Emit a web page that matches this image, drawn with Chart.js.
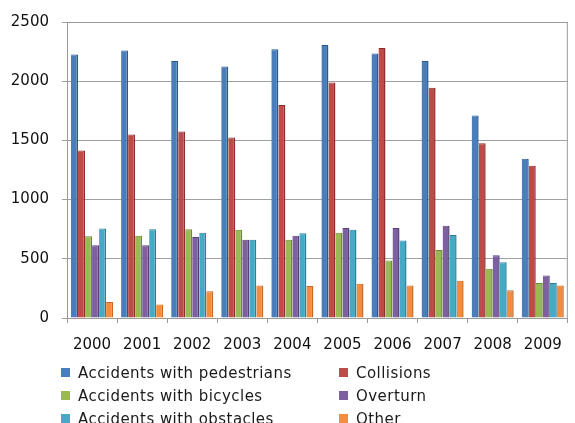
<!DOCTYPE html>
<html lang="en">
<head>
  <meta charset="UTF-8" />
  <title>Accidents by type</title>
  <script src="https://cdn.jsdelivr.net/npm/chart.js"></script>
  <style>
    html, body { margin: 0; padding: 0; background: #fff; }
    #wrap { position: relative; width: 575px; height: 423px; overflow: hidden; }
    #legend { position: absolute; left: 61px; top: 364px; display: grid;
      grid-template-columns: 278px 200px; row-gap: 5px; line-height: 18px;
      font: 15px "DejaVu Sans", sans-serif; letter-spacing: 0.45px; color: #1a1a1a; }
    #legend span.sw { display: inline-block; width: 9px; height: 9px; margin-right: 8px; vertical-align: 1px; }
  </style>
  <script>
    const years = ["2000", "2001", "2002", "2003", "2004", "2005", "2006", "2007", "2008", "2009"];
    const yTicks = [0, 500, 1000, 1500, 2000, 2500];

    const pedestrians = [2225, 2260, 2170, 2125, 2270, 2305, 2235, 2170, 1710, 1345];
    const collisions  = [1415, 1550, 1575, 1525, 1800, 1990, 2280, 1945, 1475, 1285];
    const bicycles    = [690, 695, 750, 745, 660, 720, 485, 575, 415, 295];
    const overturn    = [615, 615, 685, 660, 695, 760, 760, 780, 530, 360];
    const obstacles   = [755, 750, 720, 660, 715, 745, 655, 700, 470, 295];
    const other       = [135, 115, 225, 275, 270, 290, 275, 315, 235, 275];

    const seriesNames = ["Accidents with pedestrians", "Collisions", "Accidents with bicycles",
                         "Overturn", "Accidents with obstacles", "Other"];
    const seriesColors = ["#4a7ebb", "#be4b48", "#98b954", "#7d60a0", "#46aac5", "#f38c3f"];
    const seriesEdges  = ["#2c5a8f", "#8c2f2c", "#6d8a34", "#57407a", "#2b8098", "#c56a26"];

    window.onload = function () {
      const values = [pedestrians, collisions, bicycles, overturn, obstacles, other];

      const legend = document.getElementById("legend");
      seriesNames.forEach((name, i) => {
        const d = document.createElement("div");
        d.innerHTML = '<span class="sw" style="background:' + seriesColors[i] + '"></span>' + name;
        legend.appendChild(d);
      });

      const frame = {
        id: "frame",
        afterDraw(chart) {
          const a = chart.chartArea, c = chart.ctx;
          c.save();
          c.strokeStyle = "#9a9a9a";
          c.lineWidth = 1;
          c.strokeRect(a.left + 0.5, a.top + 0.5, a.right - a.left - 1, a.bottom - a.top);
          c.restore();
        }
      };

      new Chart(document.getElementById("chart").getContext("2d"), {
        type: "bar",
        data: {
          labels: years,
          datasets: values.map((v, i) => ({
            label: seriesNames[i],
            data: v,
            backgroundColor: seriesColors[i],
            borderColor: seriesEdges[i],
            borderWidth: { right: 1.5, top: 1, left: 0, bottom: 0 },
            borderSkipped: false,
            categoryPercentage: 0.84,
            barPercentage: 1.0
          }))
        },
        options: {
          responsive: false,
          animation: false,
          layout: { padding: { top: 19, right: 3, left: 0, bottom: 0 } },
          plugins: { legend: { display: false }, tooltip: { enabled: false } },
          scales: {
            x: {
              grid: { drawOnChartArea: false, drawTicks: true, tickLength: 5, color: "#9a9a9a", offset: true },
              border: { color: "#9a9a9a" },
              ticks: { color: "#111", padding: 13, font: { family: "DejaVu Sans", size: 15 } },
              afterFit(s) { s.height = 105; }
            },
            y: {
              min: 0, max: 2500,
              afterBuildTicks(s) { s.ticks = yTicks.map(v => ({ value: v })); },
              grid: { color: "#a0a0a0", tickLength: 5 },
              border: { color: "#9a9a9a" },
              ticks: { color: "#111", padding: 13, font: { family: "DejaVu Sans", size: 15 },
                       callback: v => String(v) },
              afterFit(s) { s.width = 67; }
            }
          }
        },
        plugins: [frame]
      });
    };
  </script>
</head>
<body>
  <div id="wrap">
    <canvas id="chart" width="575" height="423"></canvas>
    <div id="legend"></div>
  </div>
</body>
</html>
